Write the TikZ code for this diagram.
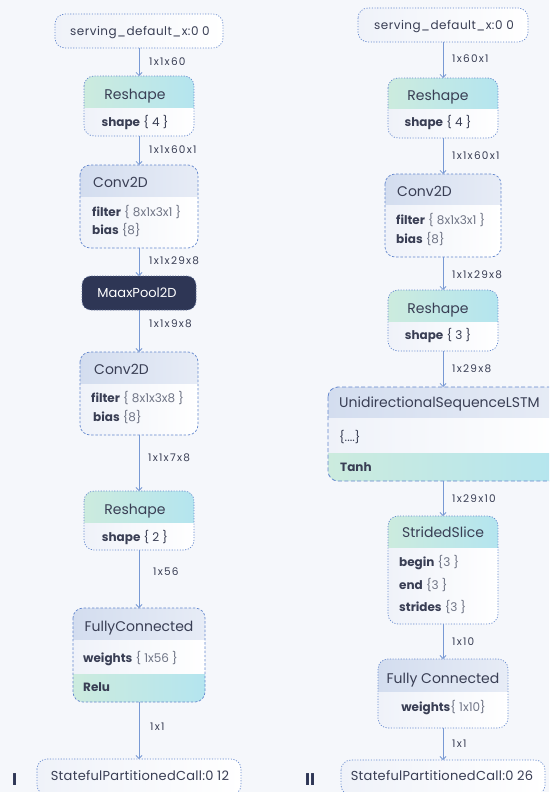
\documentclass[tikz,border=0pt]{standalone}
\usepackage{fontspec}
\setmainfont{Poppins}
\usetikzlibrary{arrows.meta,fit}

\definecolor{canvas}{RGB}{245,247,251}
\definecolor{rimblue}{RGB}{98,134,205}
\definecolor{linkblue}{RGB}{120,153,212}
\definecolor{ink}{RGB}{57,62,84}
\definecolor{inksoft}{RGB}{112,117,134}
\definecolor{mint}{RGB}{204,235,222}
\definecolor{aqua}{RGB}{180,229,239}
\definecolor{slateA}{RGB}{211,221,239}
\definecolor{slateB}{RGB}{231,236,246}
\definecolor{paleL}{RGB}{239,242,249}
\definecolor{navy}{RGB}{46,54,85}
\definecolor{navyrim}{RGB}{92,108,150}

% box body, header/footer bands and outline
\newcommand{\opframe}[5]{\node[opbox, fit={(#2,#3)(#4,#5)}] (#1) {};}
\newcommand{\opband}[6]{%
  \begin{scope}
    \clip[rounded corners=10pt] (#1.north west) rectangle (#1.south east);
    \shade[#6] (#2,#3) rectangle (#4,#5);
  \end{scope}}
\newcommand{\oprim}[2]{\draw[#2] (#1.north west) rectangle (#1.south east);}
\newcommand{\kw}[1]{\textbf{#1}}
\newcommand{\soft}[1]{{\color{inksoft}#1}}

\tikzset{
  opbox/.style={inner sep=0pt, outer sep=0pt, rounded corners=10pt,
    left color=paleL, right color=white},
  rim/.style={draw=rimblue, line width=0.7pt, dash pattern=on 1.1pt off 1.6pt,
    rounded corners=10pt},
  rimdash/.style={draw=rimblue, line width=0.7pt, dash pattern=on 2.4pt off 1.8pt,
    rounded corners=10pt},
  rimlong/.style={draw=rimblue, line width=0.8pt, dash pattern=on 4pt off 2.4pt,
    rounded corners=10pt},
  poolbox/.style={inner sep=0pt, outer sep=0pt, rounded corners=9pt, fill=navy,
    draw=navyrim, line width=0.7pt, dash pattern=on 1.1pt off 1.6pt},
  greenhead/.style={left color=mint, right color=aqua},
  slatehead/.style={left color=slateA, right color=slateB},
  link/.style={draw=linkblue, line width=0.8pt,
    -{Straight Barb[length=3pt,width=6pt]}},
  dim/.style={anchor=base west, inner sep=0pt, text=ink,
    font=\fontsize{10.5}{12}\selectfont\addfontfeature{LetterSpace=12}},
  iotxt/.style={anchor=base, inner sep=0pt, text=ink,
    font=\fontsize{12}{14}\selectfont\addfontfeature{LetterSpace=4}},
  endtxt/.style={anchor=base, inner sep=0pt, text=ink,
    font=\fontsize{13}{15}\selectfont\addfontfeature{LetterSpace=2}},
  ctxt/.style={anchor=base, inner sep=0pt, text=ink,
    font=\fontsize{12}{14}\selectfont},
  btxt/.style={anchor=base west, inner sep=0pt, text=ink,
    font=\fontsize{12}{14}\selectfont},
  hd/.style={anchor=base, inner sep=0pt, text=ink,
    font=\fontsize{14}{16}\selectfont},
  hdl/.style={anchor=base west, inner sep=0pt, text=ink,
    font=\fontsize{14}{16}\selectfont},
  numeral/.style={anchor=base west, inner sep=0pt, text=navy,
    font=\fontsize{17}{19}\selectfont\bfseries},
}

\begin{document}
\begin{tikzpicture}[x=1pt, y=-1pt]
\path[use as bounding box, fill=canvas] (0,0) rectangle (549,792);
\clip (0,0) rectangle (549,792);

% ---------------- model I ----------------
\opframe{inA}{55}{14}{223}{48}
\oprim{inA}{rim}
\node[iotxt] (inAt) at (140,35.2) {serving\_default\_x:0 0};

\opframe{rsA}{84}{76}{194}{136}
\opband{rsA}{84}{76}{194}{107}{greenhead}
\oprim{rsA}{rim}
\node[hd] (rsAh) at (135,99.9) {Reshape};
\node[ctxt] (rsAb) at (135,126.2) {\kw{shape} \{ 4 \}};

\opframe{cvA}{80}{165}{198}{248}
\opband{cvA}{80}{165}{198}{196}{slatehead}
\oprim{cvA}{rimdash}
\node[hdl] (cvAh) at (93,187.9) {Conv2D};
\node[btxt] (cvAf) at (92,216.2) {\kw{filter} \soft{\{ 8x1x3x1 \}}};
\node[btxt] (cvAb) at (92,234.2) {\kw{bias} \soft{\{8\}}};

\node[poolbox, fit={(82,276)(196,310)}] (mpA) {};
\node[anchor=base, inner sep=0pt, text=white, font=\fontsize{13}{15}\selectfont]
  (mpAt) at (137,297.6) {MaaxPool2D};

\opframe{cvB}{80}{352}{198}{435}
\opband{cvB}{80}{352}{198}{383}{slatehead}
\oprim{cvB}{rimdash}
\node[hdl] (cvBh) at (94,374.9) {Conv2D};
\node[btxt] (cvBf) at (91,402.2) {\kw{filter} \soft{\{ 8x1x3x8 \}}};
\node[btxt] (cvBb) at (93,421.7) {\kw{bias} \soft{\{8\}}};

\opframe{rsB}{84}{491}{194}{550}
\opband{rsB}{84}{491}{194}{522}{greenhead}
\oprim{rsB}{rim}
\node[hd] (rsBh) at (135,514.9) {Reshape};
\node[ctxt] (rsBb) at (135,541.2) {\kw{shape} \{ 2 \}};

\opframe{fcA}{73}{608}{205}{702}
\opband{fcA}{73}{608}{205}{639}{slatehead}
\opband{fcA}{73}{674}{205}{702}{greenhead}
\oprim{fcA}{rimdash}
\node[hd] (fcAh) at (139,631.9) {FullyConnected};
\node[btxt] (fcAw) at (83,662.2) {\kw{weights} \soft{\{ 1x56 \}}};
\node[btxt] (fcAr) at (83,691.2) {\kw{Relu}};

\opframe{outA}{37}{759}{241}{795}
\oprim{outA}{rim}
\node[endtxt] (outAt) at (140,780.6) {StatefulPartitionedCall:0 12};
\node[numeral] (numA) at (12,785) {I};

\draw[link] (inA.south) -- (rsA.north);
\draw[link] (rsA.south) -- (cvA.north);
\draw[link] (cvA.south) -- (mpA.north -| cvA.south);
\draw[link] (mpA.south -| cvA.south) -- (cvB.north);
\draw[link] (cvB.south) -- (rsB.north);
\draw[link] (rsB.south) -- (fcA.north);
\draw[link] (fcA.south) -- (outA.north);

\node[dim] (eA1) at (149,65.7) {1x1x60};
\node[dim] (eA2) at (149,153.7) {1x1x60x1};
\node[dim] (eA3) at (149,264.7) {1x1x29x8};
\node[dim] (eA4) at (149,327.7) {1x1x9x8};
\node[dim] (eA5) at (148,461.7) {1x1x7x8};
\node[dim] (eA6) at (153,575.7) {1x56};
\node[dim] (eA7) at (150,730.7) {1x1};

% ---------------- model II ----------------
\opframe{inB}{358}{8}{528}{42}
\oprim{inB}{rim}
\node[iotxt] (inBt) at (444,29.2) {serving\_default\_x:0 0};

\opframe{rsC}{388}{78}{498}{138}
\opband{rsC}{388}{78}{498}{108}{greenhead}
\oprim{rsC}{rim}
\node[hd] (rsCh) at (438,100.9) {Reshape};
\node[ctxt] (rsCb) at (438,126.9) {\kw{shape} \{ 4 \}};

\opframe{cvC}{385}{174}{501}{257}
\opband{cvC}{385}{174}{501}{204}{slatehead}
\oprim{cvC}{rimdash}
\node[hdl] (cvCh) at (397,196.6) {Conv2D};
\node[btxt] (cvCf) at (396,224.2) {\kw{filter} \soft{\{ 8x1x3x1 \}}};
\node[btxt] (cvCb) at (396,243.2) {\kw{bias} \soft{\{8\}}};

\opframe{rsD}{388}{290}{498}{351}
\opband{rsD}{388}{290}{498}{321}{greenhead}
\oprim{rsD}{rim}
\node[hd] (rsDh) at (438,313.9) {Reshape};
\node[ctxt] (rsDb) at (438,339.2) {\kw{shape} \{ 3 \}};

\opframe{lstm}{328}{387}{565}{481}
\opband{lstm}{328}{387}{565}{417}{slatehead}
\opband{lstm}{328}{453}{565}{481}{greenhead}
\oprim{lstm}{rimlong}
\node[hdl] (lstmh) at (339,407.9) {UnidirectionalSequenceLSTM};
\node[btxt] (lstmb) at (339,441.2) {\{....\}};
\node[btxt] (lstmf) at (340,471.2) {\kw{Tanh}};

\opframe{ssA}{388}{516}{498}{624}
\opband{ssA}{388}{516}{498}{547}{greenhead}
\oprim{ssA}{rim}
\node[hd] (ssAh) at (443,537.9) {StridedSlice};
\node[btxt] (ssA1) at (399,566.9) {\kw{begin} \soft{\{3 \}}};
\node[btxt] (ssA2) at (399,589.2) {\kw{end} \soft{\{3 \}}};
\node[btxt] (ssA3) at (399,611.2) {\kw{strides} \soft{\{3 \}}};

\opframe{fcB}{378}{659}{508}{728}
\opband{fcB}{378}{659}{508}{691}{slatehead}
\oprim{fcB}{rim}
\node[hd] (fcBh) at (443,683.9) {Fully Connected};
\node[ctxt] (fcBw) at (443.5,711.9) {\kw{weights}\soft{\{ 1x10\}}};

\opframe{outB}{341}{760}{545}{795}
\oprim{outB}{rim}
\node[endtxt] (outBt) at (442,780.6) {StatefulPartitionedCall:0 26};
\node[numeral] (numB) at (305,785) {II};

\draw[link] (inB.south) -- (rsC.north);
\draw[link] (rsC.south) -- (cvC.north);
\draw[link] (cvC.south) -- (rsD.north);
\draw[link] (rsD.south) -- (rsD.south |- lstm.north);
\draw[link] (ssA.north |- lstm.south) -- (ssA.north);
\draw[link] (ssA.south) -- (fcB.north);
\draw[link] (fcB.south) -- (outB.north);

\node[dim] (eB1) at (452,62.7) {1x60x1};
\node[dim] (eB2) at (452,159.4) {1x1x60x1};
\node[dim] (eB3) at (452,278.7) {1x1x29x8};
\node[dim] (eB4) at (452,372.7) {1x29x8};
\node[dim] (eB5) at (452,502.7) {1x29x10};
\node[dim] (eB6) at (452,645.7) {1x10};
\node[dim] (eB7) at (452,747.7) {1x1};
\end{tikzpicture}
\end{document}
